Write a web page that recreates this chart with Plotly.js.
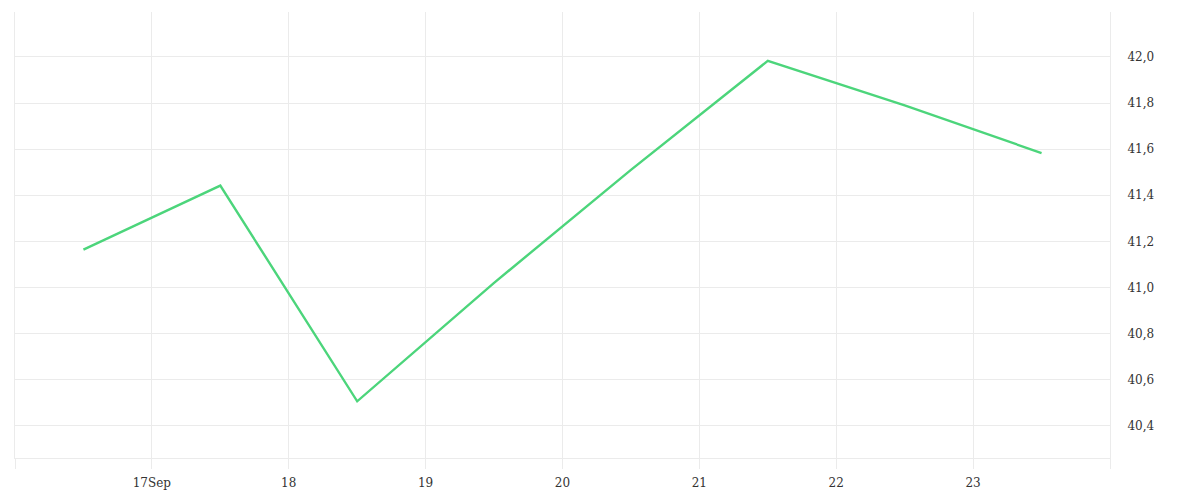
<!DOCTYPE html>
<html>
<head>
<meta charset="utf-8">
<script src="https://cdn.plot.ly/plotly-3.0.1.min.js"></script>
<style>
  html, body { margin: 0; padding: 0; background: #fff; }
  #chart { width: 1200px; height: 500px; }
</style>
</head>
<body>
<div id="chart"></div>
<script>
// daily readings, sampled at noon
var dates = ['2024-09-16 12:00', '2024-09-17 12:00', '2024-09-18 12:00', '2024-09-19 12:00',
             '2024-09-20 12:00', '2024-09-21 12:00', '2024-09-22 12:00', '2024-09-23 12:00'];
var values = [41.164, 41.442, 40.506, 41.02, 41.51, 41.983, 41.79, 41.583];

var tickDates = ['2024-09-16', '2024-09-17', '2024-09-18', '2024-09-19', '2024-09-20',
                 '2024-09-21', '2024-09-22', '2024-09-23', '2024-09-24'];
var tickLabels = ['', '17Sep', '18', '19', '20', '21', '22', '23', ''];

var gridCol = '#ebebeb';

var trace = {
  x: dates,
  y: values,
  type: 'scatter',
  mode: 'lines',
  line: { color: '#4cd57b', width: 2.4 },
  hoverinfo: 'x+y'
};

var layout = {
  width: 1200,
  height: 500,
  margin: { l: 15, r: 90, t: 12, b: 42 },
  paper_bgcolor: '#fff',
  plot_bgcolor: '#fff',
  separators: ', ',
  showlegend: false,
  font: { family: 'DejaVu Serif, serif', size: 12, color: '#333' },
  xaxis: {
    type: 'date',
    range: ['2024-09-16', '2024-09-24'],
    tickvals: tickDates,
    ticktext: tickLabels,
    showgrid: true,
    gridcolor: gridCol,
    showline: true,
    linecolor: gridCol,
    ticks: 'outside',
    ticklen: 10,
    tickcolor: gridCol,
    ticklabelstandoff: 4,
    zeroline: false
  },
  yaxis: {
    side: 'right',
    range: [40.26, 42.195],
    dtick: 0.2,
    tick0: 40,
    tickformat: '.1f',
    showgrid: true,
    gridcolor: gridCol,
    showline: true,
    mirror: true,
    linecolor: gridCol,
    ticks: '',
    ticklabelstandoff: 14,
    zeroline: false
  }
};

Plotly.newPlot('chart', [trace], layout, { displayModeBar: false, staticPlot: true });
</script>
</body>
</html>
